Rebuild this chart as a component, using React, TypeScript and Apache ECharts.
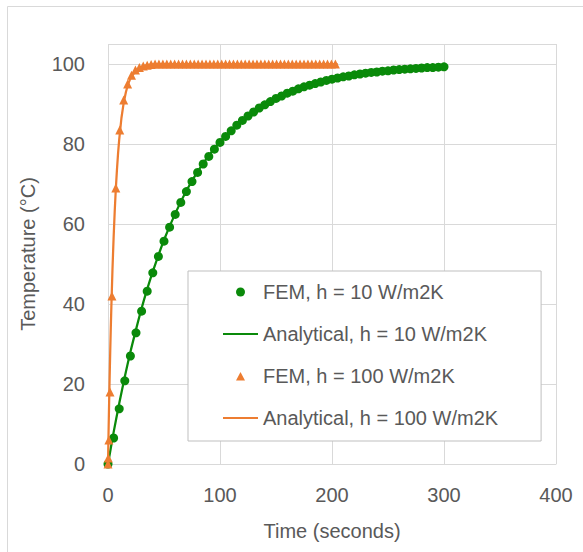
import React, { useEffect, useRef } from "react";
import * as echarts from "echarts";

// FEM, h = 10 W/m2K
const fem10Time = [0, 5, 10, 15, 20, 25, 30, 35, 40, 45, 50, 55, 60, 65, 70, 75, 80, 85, 90, 95, 100, 105, 110, 115, 120, 125, 130, 135, 140, 145, 150, 155, 160, 165, 170, 175, 180, 185, 190, 195, 200, 205, 210, 215, 220, 225, 230, 235, 240, 245, 250, 255, 260, 265, 270, 275, 280, 285, 290, 295, 300];
const fem10Temp = [0, 6.5, 13.8, 20.8, 27.0, 32.8, 38.2, 43.2, 47.8, 51.9, 55.7, 59.2, 62.4, 65.4, 68.1, 70.6, 72.9, 75.0, 76.9, 78.7, 80.4, 81.9, 83.3, 84.7, 85.9, 87.0, 88.0, 89.0, 89.8, 90.6, 91.4, 92.0, 92.7, 93.2, 93.8, 94.3, 94.7, 95.1, 95.5, 95.9, 96.2, 96.5, 96.8, 97.0, 97.3, 97.5, 97.7, 97.9, 98.0, 98.2, 98.3, 98.5, 98.6, 98.7, 98.8, 98.9, 99.0, 99.1, 99.1, 99.2, 99.3];

// Analytical, h = 10 W/m2K
const ana10Time = [0, 2, 5, 10, 15, 20, 25, 30, 35, 40, 50, 60, 70, 80, 90, 100, 110, 120, 140, 160, 180, 200, 220, 240, 260, 280, 300];
const ana10Temp = [0, 3.2, 7.9, 15.1, 21.8, 28.0, 33.6, 38.9, 43.7, 48.1, 56.0, 62.6, 68.3, 73.1, 77.1, 80.6, 83.5, 86.0, 89.9, 92.7, 94.8, 96.2, 97.3, 98.0, 98.6, 99.0, 99.3];

// FEM, h = 100 W/m2K
const fem100Time = [0, 0.3, 0.8, 1.8, 3.5, 7, 10.5, 14, 17.5, 21, 24.5, 28, 31.5, 35, 38.5, 42, 45.5, 49, 52.5, 56, 59.5, 63, 66.5, 70, 73.5, 77, 80.5, 84, 87.5, 91, 94.5, 98, 101.5, 105, 108.5, 112, 115.5, 119, 122.5, 126, 129.5, 133, 136.5, 140, 143.5, 147, 150.5, 154, 157.5, 161, 164.5, 168, 171.5, 175, 178.5, 182, 185.5, 189, 192.5, 196, 199.5, 203];
const fem100Temp = [0, 1.5, 6, 18, 42, 69, 83.5, 91, 95, 97.2, 98.5, 99.1, 99.5, 99.7, 99.9, 100, 100, 100, 100, 100, 100, 100, 100, 100, 100, 100, 100, 100, 100, 100, 100, 100, 100, 100, 100, 100, 100, 100, 100, 100, 100, 100, 100, 100, 100, 100, 100, 100, 100, 100, 100, 100, 100, 100, 100, 100, 100, 100, 100, 100, 100, 100];

// Analytical, h = 100 W/m2K
const ana100Time = [0, 0.5, 1, 1.5, 2, 2.5, 3, 4, 5, 6, 7, 8, 9, 10, 12, 14, 16, 18, 20, 25, 30, 35, 40, 50, 60, 80, 100, 150, 205];
const ana100Temp = [0, 8.0, 15.4, 22.1, 28.3, 34.1, 39.3, 48.7, 56.5, 63.2, 68.9, 73.6, 77.7, 81.1, 86.5, 90.3, 93.0, 95.0, 96.4, 98.4, 99.3, 99.7, 99.9, 100, 100, 100, 100, 100, 100];

const xTicks = [0, 100, 200, 300, 400];
const yTicks = [0, 20, 40, 60, 80, 100];

const seriesNames = [
  "FEM, h = 10 W/m2K",
  "Analytical, h = 10 W/m2K",
  "FEM, h = 100 W/m2K",
  "Analytical, h = 100 W/m2K",
];

const GREEN = "#0a8a0a";
const ORANGE = "#ED7D31";
const TEXT = "#595959";
const GRID = "#d9d9d9";
const FONT = "Liberation Sans, Arial, sans-serif";

// legend icons, each spanning the full 35 x 9 legend box so nothing is stretched
const ICON_CIRCLE = "path://M0,0 M35,9 M13,4.5 A4.5,4.5 0 1,1 22,4.5 A4.5,4.5 0 1,1 13,4.5 Z";
const ICON_TRIANGLE = "path://M0,0 M35,9 M13,9 L17.5,0.5 L22,9 Z";
const ICON_LINE = "path://M0,0 M35,9 M0,3.4 L35,3.4 L35,5.6 L0,5.6 Z";

const zip = (a: number[], b: number[]) => a.map((v, i) => [v, b[i]]);

export default function App() {
  const ref = useRef<HTMLDivElement>(null);
  useEffect(() => {
    if (!ref.current) return;
    const chart = echarts.init(ref.current, null, { renderer: "svg" });
    chart.setOption({
      animation: false,
      backgroundColor: "#ffffff",
      textStyle: { fontFamily: FONT, color: TEXT },
      graphic: [
        {
          type: "rect",
          shape: { x: 7.5, y: 6.5, width: 600, height: 600 },
          style: { fill: "none", stroke: GRID, lineWidth: 1 },
          silent: true,
        },
      ],
      grid: { left: 108, right: 27, top: 44, bottom: 88 },
      xAxis: {
        type: "value",
        min: xTicks[0],
        max: xTicks[xTicks.length - 1],
        interval: xTicks[1] - xTicks[0],
        name: "Time (seconds)",
        nameLocation: "middle",
        nameGap: 57,
        nameTextStyle: { fontSize: 20, color: TEXT, fontFamily: FONT },
        axisLine: { show: true, lineStyle: { color: GRID } },
        axisTick: { show: false },
        axisLabel: { fontSize: 20, color: TEXT, margin: 21, fontFamily: FONT },
        splitLine: { show: true, lineStyle: { color: GRID, width: 1 } },
      },
      yAxis: {
        type: "value",
        min: yTicks[0],
        max: 105,
        interval: yTicks[1] - yTicks[0],
        name: "Temperature (°C)",
        nameLocation: "middle",
        nameGap: 70,
        nameTextStyle: { fontSize: 20, color: TEXT, fontFamily: FONT },
        axisLine: { show: false },
        axisTick: { show: false },
        axisLabel: {
          fontSize: 20,
          color: TEXT,
          margin: 23,
          fontFamily: FONT,
          formatter: (v: number) => (yTicks.includes(v) ? String(v) : ""),
        },
        splitLine: { show: true, lineStyle: { color: GRID, width: 1 } },
      },
      legend: {
        orient: "vertical",
        left: 188,
        top: 271,
        padding: [11, 43, 13, 35],
        itemGap: 22,
        itemWidth: 35,
        itemHeight: 9,
        backgroundColor: "#ffffff",
        borderColor: "#bfbfbf",
        borderWidth: 1,
        textStyle: { fontSize: 20, color: TEXT, fontFamily: FONT },
        data: [
          { name: seriesNames[0], icon: ICON_CIRCLE },
          { name: seriesNames[1], icon: ICON_LINE },
          { name: seriesNames[2], icon: ICON_TRIANGLE },
          { name: seriesNames[3], icon: ICON_LINE },
        ],
      },
      series: [
        {
          name: seriesNames[0],
          type: "scatter",
          symbol: "circle",
          symbolSize: 9,
          itemStyle: { color: GREEN, opacity: 1 },
          data: zip(fem10Time, fem10Temp),
          z: 2,
        },
        {
          name: seriesNames[1],
          type: "line",
          symbol: "none",
          smooth: 0.3,
          lineStyle: { color: GREEN, width: 2.25 },
          itemStyle: { color: GREEN },
          data: zip(ana10Time, ana10Temp),
          z: 3,
        },
        {
          name: seriesNames[2],
          type: "scatter",
          symbol: "triangle",
          symbolSize: 9,
          itemStyle: { color: ORANGE, opacity: 1 },
          data: zip(fem100Time, fem100Temp),
          z: 4,
        },
        {
          name: seriesNames[3],
          type: "line",
          symbol: "none",
          lineStyle: { color: ORANGE, width: 2.25 },
          itemStyle: { color: ORANGE },
          data: zip(ana100Time, ana100Temp),
          z: 5,
        },
      ],
    });
    return () => chart.dispose();
  }, []);
  return (
    <div
      ref={ref}
      style={{ position: "absolute", left: 0, top: 0, width: 583, height: 552 }}
    />
  );
}
